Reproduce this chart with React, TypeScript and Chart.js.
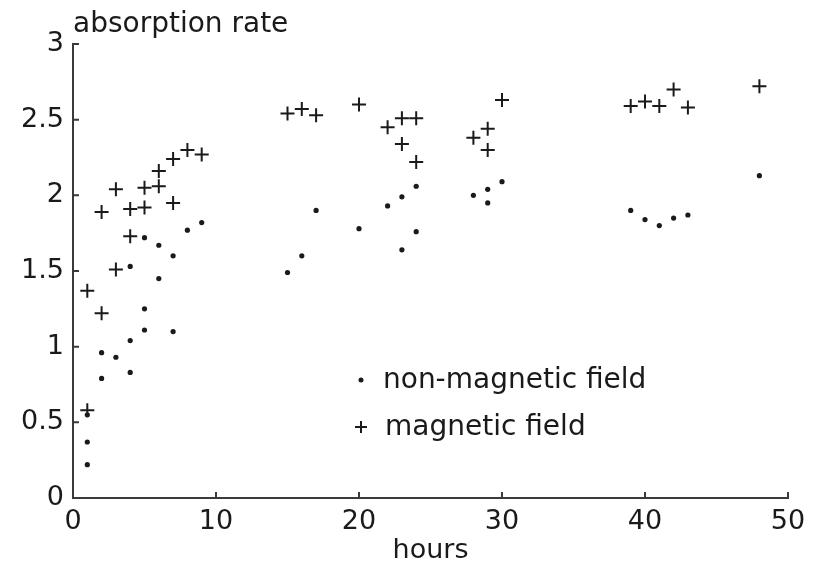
import React, { useEffect, useRef } from "react";
import { Chart, registerables } from "chart.js";

Chart.register(...registerables);

// ---- data ----
const xTickValues = [0, 10, 20, 30, 40, 50];
const yTickValues = [0, 0.5, 1, 1.5, 2, 2.5, 3];

const nonMagHours = [
  1, 1, 1, 2, 2, 3, 4, 4, 4, 5, 5, 5, 6, 6, 7, 7, 8, 9,
  15, 16, 17, 20, 22, 23, 23, 24, 24, 28, 29, 29, 30,
  39, 40, 41, 42, 43, 48,
];
const nonMagValues = [
  0.55, 0.37, 0.22, 0.96, 0.79, 0.93, 1.53, 1.04, 0.83, 1.72, 1.25, 1.11, 1.67, 1.45, 1.6, 1.1, 1.77, 1.82,
  1.49, 1.6, 1.9, 1.78, 1.93, 1.99, 1.64, 2.06, 1.76, 2.0, 2.04, 1.95, 2.09,
  1.9, 1.84, 1.8, 1.85, 1.87, 2.13,
];

const magHours = [
  1, 1, 2, 2, 3, 3, 4, 4, 5, 5, 6, 6, 7, 7, 8, 9,
  15, 16, 17, 20, 22, 23, 23, 24, 24, 28, 29, 29, 30,
  39, 40, 41, 42, 43, 48,
];
const magValues = [
  1.37, 0.58, 1.89, 1.22, 2.04, 1.51, 1.91, 1.73, 2.05, 1.92, 2.16, 2.06, 2.24, 1.95, 2.3, 2.27,
  2.54, 2.57, 2.53, 2.6, 2.45, 2.51, 2.34, 2.51, 2.22, 2.38, 2.44, 2.3, 2.63,
  2.59, 2.62, 2.59, 2.7, 2.58, 2.72,
];

const xTitle = "hours";
const yTitle = "absorption rate";
const seriesNames = ["non-magnetic field", "magnetic field"];

const FONT = "'DejaVu Sans', 'Liberation Sans', sans-serif";
const INK = "#1a1a1a";
const AXIS = "#3a3a3a";

const toPoints = (xs: number[], ys: number[]) => xs.map((x, i) => ({ x, y: ys[i] }));

const decorPlugin = {
  id: "decor",
  afterDraw(chart: any) {
    const { ctx, chartArea, scales } = chart;
    const xs = scales.x;
    const ys = scales.y;
    ctx.save();
    // inward tick marks
    ctx.strokeStyle = AXIS;
    ctx.lineWidth = 2;
    ctx.beginPath();
    yTickValues.forEach((v) => {
      const y = ys.getPixelForValue(v);
      ctx.moveTo(chartArea.left, y);
      ctx.lineTo(chartArea.left + 6, y);
    });
    xTickValues.forEach((v) => {
      const x = xs.getPixelForValue(v);
      ctx.moveTo(x, chartArea.bottom);
      ctx.lineTo(x, chartArea.bottom - 6);
    });
    ctx.stroke();

    // y axis title at top-left
    ctx.fillStyle = INK;
    ctx.font = `28px ${FONT}`;
    ctx.textAlign = "left";
    ctx.textBaseline = "alphabetic";
    ctx.fillText(yTitle, chartArea.left, 32);

    // legend inside plot
    const lx = chartArea.left + 288;
    const ly1 = 380;
    const ly2 = 427;
    ctx.beginPath();
    ctx.arc(lx, ly1, 2.5, 0, Math.PI * 2);
    ctx.fill();
    ctx.beginPath();
    ctx.lineWidth = 2;
    ctx.strokeStyle = INK;
    ctx.moveTo(lx - 6, ly2);
    ctx.lineTo(lx + 6, ly2);
    ctx.moveTo(lx, ly2 - 6);
    ctx.lineTo(lx, ly2 + 6);
    ctx.stroke();
    ctx.font = `28px ${FONT}`;
    ctx.fillText(seriesNames[0], lx + 22, ly1 + 8);
    ctx.fillText(seriesNames[1], lx + 24, ly2 + 8);
    ctx.restore();
  },
};

export default function App() {
  const ref = useRef<HTMLCanvasElement | null>(null);

  useEffect(() => {
    if (!ref.current) return;
    const chart = new Chart(ref.current, {
      type: "scatter",
      data: {
        datasets: [
          {
            label: seriesNames[0],
            data: toPoints(nonMagHours, nonMagValues),
            pointStyle: "circle",
            pointRadius: 2.6,
            backgroundColor: INK,
            borderColor: INK,
            borderWidth: 0,
          },
          {
            label: seriesNames[1],
            data: toPoints(magHours, magValues),
            pointStyle: "cross",
            pointRadius: 7,
            backgroundColor: INK,
            borderColor: INK,
            borderWidth: 2,
          },
        ],
      },
      options: {
        animation: false,
        responsive: false,
        layout: { padding: { left: 0, right: 37, top: 44, bottom: 0 } },
        plugins: {
          legend: { display: false },
          tooltip: { enabled: false },
          title: { display: false },
        },
        scales: {
          x: {
            type: "linear",
            min: 0,
            max: 50,
            afterFit: (s: any) => {
              s.height = 69;
            },
            afterBuildTicks: (s: any) => {
              s.ticks = xTickValues.map((v) => ({ value: v }));
            },
            grid: { display: false, drawTicks: false },
            border: { display: true, color: AXIS, width: 2 },
            ticks: {
              color: INK,
              font: { family: FONT, size: 27 },
              padding: 8,
              maxRotation: 0,
              callback: (v: any) => String(v),
            },
            title: {
              display: true,
              text: xTitle,
              color: INK,
              font: { family: FONT, size: 27 },
              padding: { top: 0, bottom: 0 },
            },
          },
          y: {
            type: "linear",
            min: 0,
            max: 3,
            afterFit: (s: any) => {
              s.width = 73;
            },
            afterBuildTicks: (s: any) => {
              s.ticks = yTickValues.map((v) => ({ value: v }));
            },
            grid: { display: false, drawTicks: false },
            border: { display: true, color: AXIS, width: 2 },
            ticks: {
              color: INK,
              font: { family: FONT, size: 27 },
              padding: 9,
              callback: (v: any) => String(v),
            },
          },
        },
      },
      plugins: [decorPlugin],
    } as any);
    return () => chart.destroy();
  }, []);

  return (
    <div style={{ position: "fixed", left: 0, top: 0, width: 825, height: 567, background: "#fff" }}>
      <canvas ref={ref} width={825} height={567} />
    </div>
  );
}
